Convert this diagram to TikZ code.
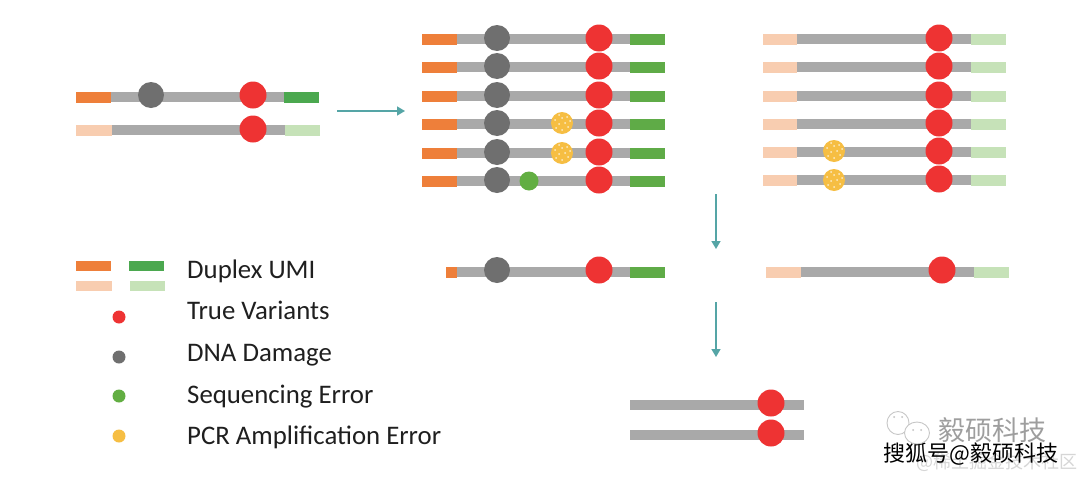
\documentclass[tikz,border=0pt]{standalone}
\usepackage{fontspec}
\setmainfont{Carlito}
\newfontfamily\cjk{Noto Sans CJK SC}
\usetikzlibrary{arrows.meta}
\definecolor{uo}{HTML}{EE7F3A}
\definecolor{ug}{HTML}{5FAB47}
\definecolor{ugd}{HTML}{4BA84F}
\definecolor{ulo}{HTML}{F8CDB0}
\definecolor{ulg}{HTML}{C6E2B8}
\definecolor{strandc}{HTML}{A9A9A9}
\definecolor{redv}{HTML}{EE3333}
\definecolor{dmg}{HTML}{6F6F6F}
\definecolor{seqe}{HTML}{62AE42}
\definecolor{pcre}{HTML}{F6BE43}
\definecolor{arrowc}{HTML}{55A5A6}
\tikzset{
  x=1pt,y=-1pt,
  spot/.style={circle,inner sep=0pt,minimum size=#1,line width=0pt},
  redspot/.style={spot=#1,fill=redv},
  dmgspot/.style={spot=#1,fill=dmg},
  seqspot/.style={spot=#1,fill=seqe},
  pcrspot/.style={spot=#1,fill=pcre,path picture={
    \foreach \a/\b in {-6/-5,0/-7,6/-4,-3/-1,3/0,8/2,-7/3,0/5,5/6,-3/8}
      \fill[white!70!pcre] (path picture bounding box.center) ++(\a pt,\b pt) circle (1pt);}},
  legendtext/.style={anchor=base west,inner sep=0pt,font=\fontsize{26.8}{30}\selectfont,text=black!88},
  flow/.style={draw=arrowc,line width=1.5pt,-{Stealth[length=8pt,width=9pt,inset=0pt]}},
}
% y, x0, x1 (end of left tag), x2 (start of right tag), x3, left colour, right colour
\newcommand{\strandbar}[7]{%
  \fill[strandc] (#3,#1-5) rectangle (#4,#1+5);
  \fill[#6] (#2,#1-5.5) rectangle (#3,#1+5.5);
  \fill[#7] (#4,#1-5.5) rectangle (#5,#1+5.5);}
\begin{document}
\begin{tikzpicture}
\useasboundingbox (0,0) rectangle (1080,477);
\fill[white] (0,0) rectangle (1080,477);

% original duplex
\strandbar{97}{76}{111}{284}{319}{uo}{ugd}
\strandbar{130}{76}{112}{285}{320}{ulo}{ulg}
\node[dmgspot=26pt] (o1) at (151,95) {};
\node[redspot=27pt] (o2) at (253,95) {};
\node[redspot=27pt] (o3) at (253,129) {};

% amplified top strands
\foreach \n/\y in {a/39,b/67,c/96,d/124,e/153,f/181}{
  \strandbar{\y}{422}{457}{630}{665}{uo}{ug}
  \node[dmgspot=26pt] (\n g) at (497,\y-1) {};
  \node[redspot=27pt] (\n r) at (599,\y-1) {};
}
\node[pcrspot=22pt] (dp) at (562,123) {};
\node[pcrspot=22pt] (ep) at (562,153) {};
\node[seqspot=19pt] (fs) at (529,181) {};

% amplified bottom strands
\foreach \n/\y in {p/39,q/67,r/96,s/124,t/152,u/180}{
  \strandbar{\y}{763}{797}{971}{1006}{ulo}{ulg}
  \node[redspot=27pt] (\n r) at (939,\y-1) {};
}
\node[pcrspot=22pt] (tp) at (834,151) {};
\node[pcrspot=22pt] (up) at (834,180) {};

% consensus
\strandbar{272}{446}{457}{630}{665}{uo}{ug}
\node[dmgspot=26pt] (c1) at (497,270) {};
\node[redspot=27pt] (c2) at (599,270) {};
\strandbar{272}{766}{801}{974}{1009}{ulo}{ulg}
\node[redspot=27pt] (c3) at (942,270) {};

% final duplex
\fill[strandc] (630,400) rectangle (804,410);
\fill[strandc] (630,430) rectangle (804,440);
\node[redspot=27pt] (f1) at (771,403) {};
\node[redspot=27pt] (f2) at (771,433) {};

% arrows
\coordinate (a1s) at (337,111); \coordinate (a1e) at (405,111);
\coordinate (a2s) at (716,194); \coordinate (a2e) at (716,249);
\coordinate (a3s) at (716,302); \coordinate (a3e) at (716,357);
\draw[flow] (a1s) -- (a1e);
\draw[flow] (a2s) -- (a2e);
\draw[flow] (a3s) -- (a3e);

% legend
\fill[uo] (76,261) rectangle (111,271);
\fill[ugd] (129,261) rectangle (164,271);
\fill[ulo] (76,281) rectangle (112,291);
\fill[ulg] (130,281) rectangle (165,291);
\node[redspot=13pt] (l1) at (119,317) {};
\node[dmgspot=13pt] (l2) at (119,357) {};
\node[seqspot=13pt] (l3) at (119,396) {};
\node[spot=13pt,fill=pcre] (l4) at (119,436) {};
\node[legendtext] (t0) at (187,278) {Duplex UMI};
\node[legendtext] (t1) at (187,319) {True Variants};
\node[legendtext] (t2) at (187,361) {DNA Damage};
\node[legendtext] (t3) at (187,403) {Sequencing Error};
\node[legendtext] (t4) at (187,444) {PCR Amplification Error};

% watermarks
\node[anchor=west,inner sep=0pt,text=black!16,font=\cjk\fontsize{18}{20}\selectfont] (w3) at (916,462) {@稀土掘金技术社区};
\node[anchor=west,inner sep=0pt,text=black!38,font=\cjk\fontsize{27}{30}\selectfont] (w1) at (938,430) {毅硕科技};
\node[anchor=west,inner sep=0pt,text=black,font=\cjk\fontsize{22}{26}\selectfont] (w2) at (883,454) {搜狐号@毅硕科技};
\draw[black!22,line width=.9pt,fill=white] (898,423) ellipse (11pt and 11.5pt);
\draw[black!22,line width=.9pt,fill=white] (917,433) ellipse (12.5pt and 11pt);
\fill[black!25] (894,417) circle (1pt) (902,417) circle (1pt) (913,430) circle (1pt) (921,430) circle (1pt);
\end{tikzpicture}
\end{document}
